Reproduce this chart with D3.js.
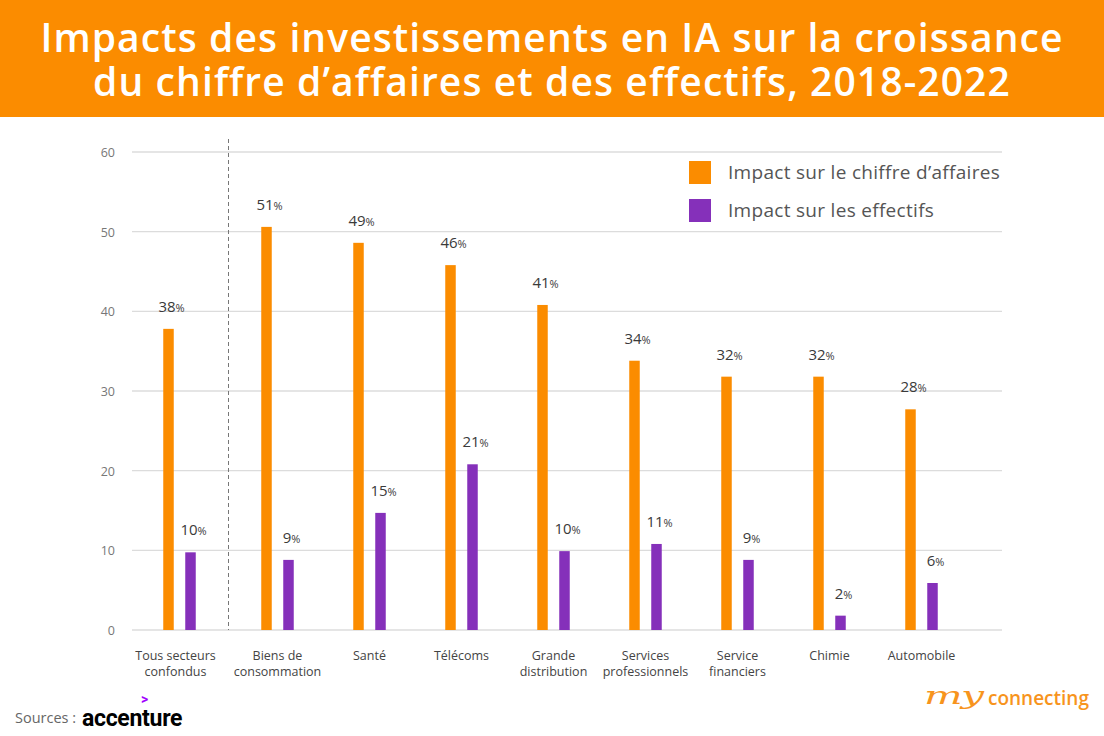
<!DOCTYPE html>
<html><head><meta charset="utf-8">
<script src="https://cdn.jsdelivr.net/npm/d3@7"></script>
<style>
html,body{margin:0;padding:0;background:#fff;}
svg{display:block;font-family:"Open Sans",sans-serif;}
</style></head>
<body><svg id="c" width="1104" height="736"></svg>
<script>
const categories = ["Tous secteurs|confondus","Biens de|consommation","Santé","Télécoms","Grande|distribution","Services|professionnels","Service|financiers","Chimie","Automobile"];
const seriesNames = ["Impact sur le chiffre d’affaires","Impact sur les effectifs"];
const revenue = [37.8, 50.6, 48.6, 45.8, 40.8, 33.8, 31.8, 31.8, 27.7];
const workforce = [9.75, 8.8, 14.7, 20.8, 9.9, 10.8, 8.8, 1.8, 5.9];
const revenueLabels = [38, 51, 49, 46, 41, 34, 32, 32, 28];
const workforceLabels = [10, 9, 15, 21, 10, 11, 9, 2, 6];
const yTicks = [0, 10, 20, 30, 40, 50, 60];
const colors = ["#FB8C00", "#8530BA"];

const svg = d3.select("#c");

// Title banner
svg.append("rect").attr("x",0).attr("y",0).attr("width",1104).attr("height",117).attr("fill","#FB8C00");
const titleLines = ["Impacts des investissements en IA sur la croissance","du chiffre d’affaires et des effectifs, 2018-2022"];
svg.selectAll("text.title").data(titleLines).join("text")
  .attr("class","title").attr("x",552).attr("y",(d,i)=>52+i*44)
  .attr("text-anchor","middle").attr("fill","#fff")
  .attr("font-size",39).attr("font-weight",600).attr("letter-spacing",1.1)
  .text(d=>d);

// Scales
const y = d3.scaleLinear().domain([0,60]).range([630,152]);
const x = d3.scaleBand().domain(categories).range([139.5, 967.5]);
const groupShift = i => i === 0 ? -6 : 0;
const sub = d3.scalePoint().domain([0,1]).range([-11,11]);
const barW = 10.5;
const cx = (i) => x(categories[i]) + x.bandwidth()/2 + groupShift(i);

// Gridlines
svg.append("g").selectAll("line").data(yTicks).join("line")
  .attr("x1",132).attr("x2",1002)
  .attr("y1",d=>y(d)).attr("y2",d=>y(d))
  .attr("stroke","#dcdcdc").attr("stroke-width",1.3);

// Y axis labels
const yAxis = d3.axisLeft(y).tickValues(yTicks).tickSize(0).tickPadding(0);
const gy = svg.append("g").attr("transform","translate(115,0)").call(yAxis);
gy.select(".domain").remove();
gy.selectAll("text").attr("font-size",12.5).attr("fill","#777").attr("font-family","Open Sans, sans-serif").attr("dy","0.35em");

// Dashed separator
svg.append("line").attr("x1",228.5).attr("x2",228.5).attr("y1",139).attr("y2",630)
  .attr("stroke","#777").attr("stroke-width",1).attr("stroke-dasharray","4,3");

// Bars
const allSeries = [revenue, workforce];
const allLabels = [revenueLabels, workforceLabels];
allSeries.forEach((vals, s) => {
  svg.append("g").selectAll("rect").data(vals).join("rect")
    .attr("x",(d,i)=>cx(i)+sub(s)-barW/2)
    .attr("y",d=>y(d))
    .attr("width",barW)
    .attr("height",d=>y(0)-y(d))
    .attr("fill",colors[s]);
  const t = svg.append("g").selectAll("text").data(vals).join("text")
    .attr("x",(d,i)=>cx(i)+sub(s)+3)
    .attr("y",d=>y(d)-17)
    .attr("text-anchor","middle")
    .attr("fill","#3a3a3a").attr("font-size",15);
  t.append("tspan").text((d,i)=>allLabels[s][i]);
  t.append("tspan").attr("font-size",11).text("%");
});

// X labels
categories.forEach((c,i)=>{
  const lines = c.split("|");
  const t = svg.append("text").attr("text-anchor","middle").attr("fill","#444").attr("font-size",12.5);
  lines.forEach((l,j)=>{
    t.append("tspan").attr("x",cx(i)+(i===0?-4:0)).attr("y",660+j*15.5).text(l);
  });
});

// Legend
seriesNames.forEach((n,i)=>{
  svg.append("rect").attr("x",689).attr("y",161+i*38).attr("width",22).attr("height",23).attr("fill",colors[i]);
  svg.append("text").attr("x",728).attr("y",179+i*38).attr("fill","#555").attr("font-size",19).attr("letter-spacing",0.3).text(n);
});

// Sources
svg.append("text").attr("x",15).attr("y",723).attr("fill","#666").attr("font-size",14.5).text("Sources :");
svg.append("text").attr("x",82).attr("y",726).attr("fill","#000").attr("font-size",23).attr("font-weight",700)
  .attr("font-family","Roboto, sans-serif").attr("letter-spacing",-0.3).text("accenture");
svg.append("text").attr("x",141).attr("y",704).attr("fill","#A100FF").attr("font-size",14).attr("font-weight",700)
  .attr("font-family","Roboto, sans-serif").text(">");

// Logo
svg.append("text").attr("transform","translate(924,704) scale(1.7,1)").attr("fill","#F7941D").attr("font-size",24).attr("font-style","italic")
  .attr("font-family","DejaVu Serif, serif").attr("letter-spacing",-1).text("my");
svg.append("text").attr("x",988).attr("y",705).attr("fill","#F7941D").attr("font-size",19).attr("font-weight",600)
  .attr("font-family","Open Sans, sans-serif").text("connecting");
</script></body></html>
